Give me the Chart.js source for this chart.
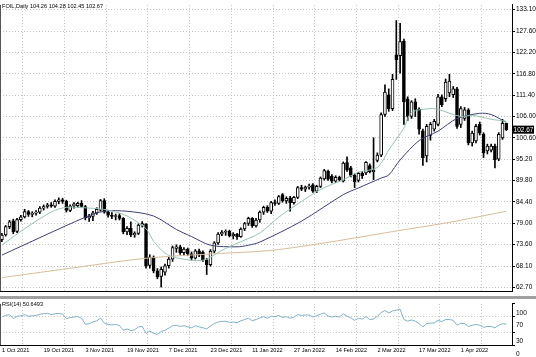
<!DOCTYPE html>
<html><head><meta charset="utf-8">
<script src="https://cdn.jsdelivr.net/npm/chart.js@4/dist/chart.umd.min.js"></script>
<style>
html,body{margin:0;padding:0;background:#fff;width:536px;height:357px;overflow:hidden}
#main{position:absolute;left:0;top:0}
#rsi{position:absolute;left:0;top:299px}
#sep{position:absolute;left:0;top:296px;width:536px;height:3px;background:#a0a0a0}
</style></head><body>
<canvas id="main" width="536" height="296"></canvas>
<div id="sep"></div>
<canvas id="rsi" width="536" height="58"></canvas>
<script>
const symbolName = 'FOIL,Daily';
const tickLabels = ['1 Oct 2021','19 Oct 2021','3 Nov 2021','19 Nov 2021','7 Dec 2021','23 Dec 2021','11 Jan 2022','27 Jan 2022','14 Feb 2022','2 Mar 2022','17 Mar 2022','1 Apr 2022'];
const labelEvery = 11;
const priceTicks = [62.70,68.10,73.60,79.00,84.40,89.80,95.20,100.60,106.00,111.40,116.80,122.20,127.60,133.10];
const rsiTicks = [0,30,70,100];

const opens = [74.8,76.0,78.1,79.6,76.9,79.9,80.6,81.9,81.2,81.5,
81.8,82.8,83.2,83.6,83.3,84.5,84.9,84.5,82.2,83.3,
83.4,84.0,83.2,80.3,80.7,81.6,82.3,84.7,81.8,81.0,
80.7,80.9,80.2,76.8,77.7,76.0,76.4,78.5,78.7,68.3,
70.4,66.9,65.5,66.6,68.2,69.9,72.6,73.0,71.5,72.4,
71.2,70.1,72.0,71.6,69.7,68.5,71.9,74.0,76.2,76.7,
76.9,75.8,76.2,75.6,77.5,78.9,80.2,78.3,79.8,81.8,
83.0,82.0,84.2,84.0,86.2,84.6,85.4,84.2,85.5,88.0,
87.6,88.1,88.7,87.1,88.3,90.2,92.1,90.9,89.6,90.6,
89.6,94.3,93.0,91.1,89.8,91.6,91.7,93.6,92.0,94.9,
96.2,106.5,111.5,108.0,121.6,121.4,125.1,110.5,106.0,109.7,
107.8,102.4,96.0,101.2,102.8,104.0,111.0,110.5,112.0,111.5,
113.0,104.0,105.5,107.7,99.3,99.8,104.0,101.5,97.3,97.5,
98.5,95.2,100.6,104.26];
const highs = [76.4,78.4,79.7,80.0,80.2,81.0,82.5,82.2,81.9,82.2,
83.2,83.6,84.0,84.2,84.9,85.4,85.3,84.8,83.6,84.2,
84.3,84.7,83.5,81.2,82.0,82.9,85.0,85.2,82.2,81.7,
81.3,81.4,80.4,78.1,79.3,76.8,78.8,79.4,78.9,71.0,
70.7,67.5,67.9,68.6,70.3,73.2,73.5,73.4,72.8,72.7,
71.7,72.3,72.4,72.0,70.1,72.3,74.3,76.6,77.1,77.3,
77.2,76.6,76.4,77.8,79.2,80.5,80.4,80.2,82.1,83.3,
83.4,84.5,84.9,86.0,86.5,85.7,85.8,85.8,88.3,88.6,
88.4,88.9,89.0,88.6,90.7,92.6,92.4,91.3,91.0,90.9,
94.5,95.8,93.4,91.5,91.9,92.1,94.6,94.0,100.6,96.8,
106.9,114.0,113.0,116.7,130.3,129.6,125.6,111.0,110.0,110.5,
108.2,102.8,104.0,104.5,105.3,111.6,111.5,115.5,116.7,113.6,
113.4,108.5,108.3,108.0,102.3,104.0,104.6,101.9,99.0,99.0,
99.0,101.9,105.3,104.28];
const lows = [74.3,75.7,77.6,76.3,76.6,79.5,80.3,80.7,80.6,81.0,
81.4,82.3,82.8,83.0,83.0,83.9,84.0,81.8,81.9,82.8,
83.0,82.9,79.8,79.4,79.6,81.2,82.0,81.5,80.5,80.1,
79.8,79.8,76.3,76.1,75.6,75.4,76.1,78.0,67.6,67.6,
66.4,64.9,62.8,65.8,67.6,69.3,71.6,71.1,71.0,70.8,
69.7,69.9,70.5,69.3,66.0,68.1,71.5,73.6,75.8,75.9,
75.5,75.0,74.9,75.4,77.1,78.4,77.9,78.0,79.2,81.2,
81.7,81.4,83.5,83.7,84.3,84.0,82.0,83.8,85.2,87.2,
87.0,87.6,86.8,86.7,88.0,89.9,89.8,89.2,89.3,89.6,
89.4,92.1,90.7,88.0,89.4,90.3,91.3,91.7,90.0,94.5,
95.8,106.0,107.3,107.5,115.4,117.0,104.0,105.0,105.5,106.0,
101.5,93.6,94.5,100.0,102.3,103.6,108.5,109.8,111.0,110.8,
103.0,103.2,105.0,98.8,98.5,99.3,101.3,95.6,96.5,97.0,
93.0,94.8,100.2,102.45];
const closes = [76.0,78.1,79.3,76.8,79.9,80.6,81.9,81.2,81.5,81.8,
82.8,83.2,83.6,83.3,84.5,84.9,84.5,82.2,83.3,83.9,
84.0,83.2,80.3,80.7,81.6,82.5,84.7,81.8,81.0,80.7,
80.9,80.2,76.8,77.7,76.0,76.4,78.5,78.9,68.2,70.4,
66.9,65.4,67.3,68.2,69.9,72.8,73.0,71.5,72.4,71.2,
70.1,72.0,70.9,69.7,68.5,71.9,74.0,76.2,76.7,76.9,
75.8,76.2,75.6,77.5,78.9,80.2,78.3,79.8,81.8,83.0,
82.0,84.2,84.0,85.7,84.6,85.3,84.2,85.5,88.0,87.6,
88.1,88.4,87.1,88.3,90.4,92.3,90.1,89.6,90.6,90.0,
94.2,92.4,91.1,89.5,91.6,91.0,94.4,92.0,92.4,96.2,
106.5,112.2,108.0,115.4,120.4,125.0,109.7,106.0,109.7,107.8,
102.8,95.6,103.5,104.0,104.8,111.0,109.0,114.7,115.0,113.0,
103.5,108.0,107.7,99.3,101.8,103.5,101.8,96.8,98.5,98.5,
95.0,101.5,104.25,102.67];

// moving averages (bar index, value)
const fastMaIdx = [0,6,13,17,23,28,33,38,40,43,46,53,58,62,68,73,79,84,90,94,99,102,106,108,113,115,121,124,129,133];
const fastMaVal = [73.4,77.6,81.8,83.0,82.8,82.3,80.8,77.6,74.4,71.4,70.2,69.6,72.1,73.9,76.5,80.5,84.5,87.5,90.0,91.9,93.1,97.5,103.1,107.0,108.0,107.8,106.0,106.3,105.3,104.8];
const slowMaIdx = [0,22,27,33,40,46,50,55,62,65,68,79,90,94,100,102,105,110,115,120,126,129,133];
const slowMaVal = [70.9,80.5,82.0,82.0,80.8,77.4,75.6,73.4,73.0,73.4,74.2,79.5,86.2,87.9,90.4,91.2,95.0,99.9,102.3,105.5,106.8,106.5,104.5];
const longMaIdx = [0,16,38,55,71,87,103,118,133];
const longMaVal = [65.2,67.3,70.1,71.2,72.1,74.3,76.85,79.2,82.0];

// RSI(14), one reading per bar
const rsiVal = [68,72,74,64,70,71,74,70,71,72,
75,76,77,74,76,77,75,64,67,68,
69,65,50,52,56,59,65,53,50,49,
50,47,36,39,35,37,44,45,28,34,
28,26,33,36,41,47,48,45,47,44,
42,47,44,42,39,47,52,56,57,58,
55,56,54,59,62,65,59,62,66,69,
65,70,69,72,67,69,65,68,74,72,
73,73,68,71,75,78,70,68,70,68,
76,70,66,60,65,63,69,62,63,70,
79,84,78,83,85,87,62,58,61,58,
52,44,52,53,54,60,57,62,62,60,
48,53,52,45,48,50,48,43,45,45,
42,48,52,50.6493];

const N = opens.length + 1;
const cats = Array.from({length: N}, (_, i) => i % labelEvery === 0 && tickLabels[i / labelEvery] ? tickLabels[i / labelEvery] : '');
function sparse(idx, val) { const a = new Array(N).fill(null); idx.forEach((k, j) => a[k] = val[j]); return a; }

const GRID = '#c2c2c2';
const vGrid = ctx => (ctx.index % labelEvery === 6 ? GRID : 'rgba(0,0,0,0)');
const FONT = 'Liberation Sans';

const bodies = opens.map((o, i) => [o, closes[i]]);
const wicks = lows.map((l, i) => [l, highs[i]]);
const bodyFill = opens.map((o, i) => closes[i] >= o ? '#ffffff' : '#000000');

const lineDs = (data, color) => ({type: 'line', data, borderColor: color, borderWidth: 1, pointRadius: 0, spanGaps: true, tension: 0.3, order: 0});

const overlay = {
  id: 'overlay',
  afterDraw(chart) {
    const ctx = chart.ctx; const y = chart.scales.y;
    ctx.save();
    ctx.font = '5.6px "' + FONT + '"'; ctx.fillStyle = '#000'; ctx.textBaseline = 'middle'; ctx.textAlign = 'left';
    const n = opens.length - 1;
    ctx.fillText(symbolName + ' ' + opens[n].toFixed(2) + ' ' + highs[n].toFixed(2) + ' ' + lows[n].toFixed(2) + ' ' + closes[n].toFixed(2), 2, 6);
    const py = y.getPixelForValue(closes[n]);
    ctx.fillStyle = '#000'; ctx.fillRect(y.left + 1, py - 4, 21, 8);
    ctx.fillStyle = '#fff'; ctx.font = '6.5px "' + FONT + '"'; ctx.textAlign = 'center';
    ctx.fillText(closes[n].toFixed(2), y.left + 11.5, py + 0.3);
    ctx.strokeStyle = '#555'; ctx.lineWidth = 1;
    ctx.beginPath(); ctx.moveTo(0.5, chart.chartArea.top); ctx.lineTo(0.5, chart.chartArea.bottom); ctx.stroke();
    ctx.restore();
  }
};

new Chart(document.getElementById('main'), {
  type: 'bar',
  data: {labels: cats, datasets: [
    lineDs(sparse(fastMaIdx, fastMaVal), '#94c4b2'),
    lineDs(sparse(slowMaIdx, slowMaVal), '#3d3f7a'),
    lineDs(sparse(longMaIdx, longMaVal), '#d5bd98'),
    {data: bodies, backgroundColor: bodyFill, borderColor: '#000', borderWidth: 1, borderSkipped: false, barThickness: 3, grouped: false, order: 1},
    {data: wicks, backgroundColor: '#000', borderWidth: 0, barThickness: 1, grouped: false, order: 2}
  ]},
  options: {
    responsive: false, animation: false, devicePixelRatio: 1,
    layout: {padding: {top: 1, bottom: 2, left: 0, right: 0}},
    plugins: {legend: {display: false}, tooltip: {enabled: false}},
    scales: {
      x: {offset: true, ticks: {display: false, autoSkip: false}, grid: {color: vGrid, drawTicks: false, offset: true}, border: {display: true, color: '#000', dash: [1, 2]}},
      y: {position: 'right', min: 61.785, max: 134.26,
        afterBuildTicks: s => { s.ticks = priceTicks.map(v => ({value: v})); },
        afterFit: s => { s.width = 24; },
        ticks: {callback: v => Number(v).toFixed(2), font: {family: FONT, size: 6.5}, color: '#000', padding: 1},
        grid: {color: GRID, tickColor: '#000', tickLength: 3, tickBorderDash: []},
        border: {display: true, color: '#000', dash: [1, 2]}}
    }
  },
  plugins: [overlay]
});

const rsiOverlay = {
  id: 'rsiOverlay',
  afterDraw(chart) {
    const ctx = chart.ctx;
    ctx.save();
    ctx.font = '5.6px "' + FONT + '"'; ctx.fillStyle = '#000'; ctx.textBaseline = 'middle';
    ctx.fillText('RSI(14) ' + rsiVal[rsiVal.length - 1].toFixed(4), 2, 5);
    ctx.strokeStyle = '#555'; ctx.lineWidth = 1;
    ctx.beginPath(); ctx.moveTo(0.5, chart.chartArea.top); ctx.lineTo(0.5, chart.chartArea.bottom); ctx.stroke();
    ctx.restore();
  }
};

new Chart(document.getElementById('rsi'), {
  type: 'line',
  data: {labels: cats, datasets: [
    {data: rsiVal, borderColor: '#7fb2c9', borderWidth: 1, pointRadius: 0, tension: 0}
  ]},
  options: {
    responsive: false, animation: false, devicePixelRatio: 1,
    layout: {padding: {top: 1, bottom: 0, left: 0, right: 0}},
    plugins: {legend: {display: false}, tooltip: {enabled: false}},
    scales: {
      x: {type: 'category', offset: true,
        afterFit: s => { s.height = 12; },
        ticks: {autoSkip: false, maxRotation: 0, minRotation: 0, align: 'start', padding: 2, font: {family: FONT, size: 5.6}, color: '#000'},
        grid: {color: vGrid, drawTicks: false, offset: true},
        border: {display: true, color: '#000', dash: [1, 2]}},
      y: {position: 'right', min: 0, max: 100,
        afterBuildTicks: s => { s.ticks = rsiTicks.map(v => ({value: v})); },
        afterFit: s => { s.width = 24; },
        ticks: {font: {family: FONT, size: 6.5}, color: '#000', padding: 1, labelOffset: 9},
        grid: {color: ctx => (ctx.tick && (ctx.tick.value === 30 || ctx.tick.value === 70)) ? GRID : 'rgba(0,0,0,0)', tickColor: '#000', tickLength: 3, tickBorderDash: []},
        border: {display: true, color: '#000', dash: [1, 2]}}
    }
  },
  plugins: [rsiOverlay]
});
</script>
</body></html>
